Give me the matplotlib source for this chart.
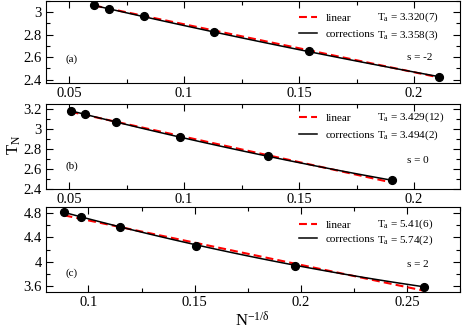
import matplotlib
matplotlib.use("Agg")
import matplotlib.pyplot as plt
import numpy as np
from matplotlib.lines import Line2D
from matplotlib.ticker import MultipleLocator

plt.rcParams['font.family'] = ['Liberation Serif', 'DejaVu Serif']
plt.rcParams['mathtext.fontset'] = 'custom'
plt.rcParams['mathtext.rm'] = 'Liberation Serif'
plt.rcParams['mathtext.it'] = 'Liberation Serif:italic'

# ---- data ----
x_a = [0.0610, 0.0674, 0.0826, 0.1129, 0.1542, 0.2109]
y_a = [3.060, 3.033, 2.964, 2.826, 2.653, 2.426]
x_b = [0.0507, 0.0568, 0.0703, 0.0981, 0.1367, 0.1904]
y_b = [3.183, 3.150, 3.073, 2.923, 2.733, 2.490]
x_c = [0.0887, 0.0966, 0.1149, 0.1507, 0.1972, 0.2580]
y_c = [4.810, 4.739, 4.570, 4.267, 3.928, 3.587]

# fit parameters: linear T = a + b x ; corrections T = a + b x + c x^2
lin_a = [3.320, 3.429, 5.41]
lin_b = [-4.27, -5.05, -7.30]
cor_a = [3.358, 3.494, 5.74]
cor_b = [-5.075, -6.447, -11.61]
cor_c = [3.12, 6.17, 12.71]

lin_labels = ["T$_\\mathregular{a}$ = 3.320(7)", "T$_\\mathregular{a}$ = 3.429(12)", "T$_\\mathregular{a}$ = 5.41(6)"]
cor_labels = ["T$_\\mathregular{a}$ = 3.358(3)", "T$_\\mathregular{a}$ = 3.494(2)", "T$_\\mathregular{a}$ = 5.74(2)"]
s_labels = ["s = -2", "s = 0", "s = 2"]
panel_labels = ["(a)", "(b)", "(c)"]

xlims = [(0.04, 0.22), (0.04, 0.22), (0.08, 0.275)]
ylims = [(2.37, 3.1), (2.4, 3.25), (3.5, 4.9)]
xmaj = [0.05, 0.05, 0.05]
ymaj = [0.2, 0.2, 0.4]
xticks = [[0.05, 0.1, 0.15, 0.2], [0.05, 0.1, 0.15, 0.2], [0.1, 0.15, 0.2, 0.25]]
xticklabels = [["0.05", "0.1", "0.15", "0.2"], ["0.05", "0.1", "0.15", "0.2"], ["0.1", "0.15", "0.2", "0.25"]]
yticks = [[2.4, 2.6, 2.8, 3.0], [2.4, 2.6, 2.8, 3.0, 3.2], [3.6, 4.0, 4.4, 4.8]]
yticklabels = [["2.4", "2.6", "2.8", "3"], ["2.4", "2.6", "2.8", "3", "3.2"], ["3.6", "4", "4.4", "4.8"]]

W, H = 463, 332
fig = plt.figure(figsize=(W / 100, H / 100), dpi=100)

# axes geometry in pixels (left, top, right, bottom)
boxes = [(46, 1, 460, 83), (46, 104, 460, 189.3), (46, 207, 460, 292.3)]
leg_rows = [(0.805, 0.585), (0.844, 0.628), (0.80, 0.613)]
s_y = [0.317, 0.332, 0.328]
p_y = [0.29, 0.273, 0.229]

xs_all = [x_a, x_b, x_c]
ys_all = [y_a, y_b, y_c]
RED_DASH = (3.8, 2.0)

for i in range(3):
    l, t, r, b = boxes[i]
    ax = fig.add_axes([l / W, (H - b) / H, (r - l) / W, (b - t) / H])
    xd = np.array(xs_all[i]); yd = np.array(ys_all[i])
    xx = np.linspace(xd.min(), xd.max(), 100)
    ax.plot(xx, lin_a[i] + lin_b[i] * xx, color='#ff0000', lw=1.5, dashes=RED_DASH, zorder=2)
    ax.plot(xx, cor_a[i] + cor_b[i] * xx + cor_c[i] * xx ** 2, color='black', lw=1.1, zorder=3)
    ax.plot(xd, yd, 'o', color='black', ms=5.6, zorder=4)
    ax.set_xlim(*xlims[i]); ax.set_ylim(*ylims[i])
    ax.set_xticks(xticks[i]); ax.set_xticklabels(xticklabels[i])
    ax.set_yticks(yticks[i]); ax.set_yticklabels(yticklabels[i])
    ax.xaxis.set_minor_locator(MultipleLocator(xmaj[i] / 2))
    ax.yaxis.set_minor_locator(MultipleLocator(ymaj[i] / 2))
    ax.tick_params(which='both', direction='in', top=True, right=True, labelsize=10.5, width=0.8, pad=3)
    ax.tick_params(which='major', length=5)
    ax.tick_params(which='minor', length=3)
    for sp in ax.spines.values():
        sp.set_linewidth(0.8)

    handles = [Line2D([], [], color='#ff0000', lw=1.5, dashes=RED_DASH),
               Line2D([], [], color='black', lw=1.1)]
    r1, r2 = leg_rows[i]
    ax.legend(handles, ["linear", "corrections"], loc='center left',
              bbox_to_anchor=(0.612, (r1 + r2) / 2), frameon=False, fontsize=8,
              handlelength=1.6, handletextpad=0.8, borderpad=0, borderaxespad=0,
              labelspacing=(r1 - r2) * (b - t) / 11.1 - 1.0)
    ax.text(0.8, r1, lin_labels[i], transform=ax.transAxes, fontsize=8, va='center')
    ax.text(0.8, r2, cor_labels[i], transform=ax.transAxes, fontsize=8, va='center')
    ax.text(0.872, s_y[i], s_labels[i], transform=ax.transAxes, fontsize=8, va='center')
    ax.text(0.048, p_y[i], panel_labels[i], transform=ax.transAxes, fontsize=8, va='center')

fig.text(14 / W, 1 - 145 / H, "T$_\\mathregular{N}$", rotation=90, fontsize=12, ha='center', va='center')
fig.text(252 / W, 1 - 321 / H, "N$^{\\mathregular{\u22121/\u03b4}}$", fontsize=12, ha='center', va='center')

fig.savefig("out.png", dpi=100)
